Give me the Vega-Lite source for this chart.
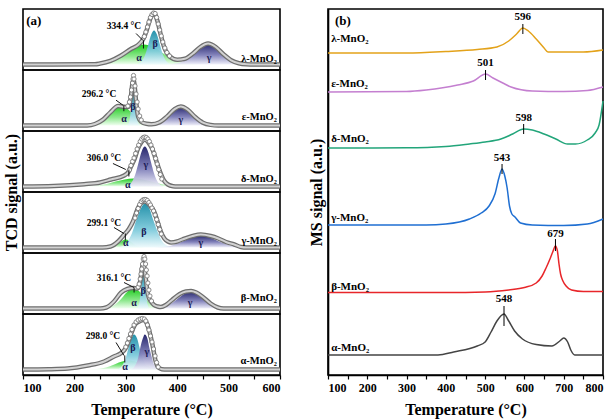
{
"$schema": "https://vega.github.io/schema/vega-lite/v6.json",
"padding": {"left": 2, "top": 3, "right": 12, "bottom": 2},
"config": {
 "view": {"stroke": "#000", "strokeWidth": 1.6},
 "axis": {"labelFont": "Liberation Serif", "labelFontWeight": "bold", "labelFontSize": 12, "labelColor": "#000", "titleFont": "Liberation Serif", "titleFontWeight": "bold", "titleFontSize": 16, "titleColor": "#000", "domainColor": "#000", "domainWidth": 1.6, "tickColor": "#000", "tickWidth": 1.2, "tickSize": 4, "grid": false, "labelPadding": 3, "titlePadding": 8},
 "text": {"font": "Liberation Serif", "fontWeight": "bold", "color": "#000"}
},
"spacing": 17,
"hconcat": [
{
 "spacing": 0,
 "bounds": "flush",
 "data": {"values": [
  {"s":"λ","k":"a","T":230,"v":5.5},{"s":"λ","k":"a","T":248,"v":6.4},{"s":"λ","k":"a","T":265,"v":8.2},{"s":"λ","k":"a","T":283,"v":12},{"s":"λ","k":"a","T":300,"v":17.6},{"s":"λ","k":"a","T":318,"v":23.2},{"s":"λ","k":"a","T":335,"v":25.5},{"s":"λ","k":"a","T":353,"v":23.2},{"s":"λ","k":"a","T":370,"v":17.6},{"s":"λ","k":"a","T":388,"v":12},{"s":"λ","k":"a","T":405,"v":8.2},{"s":"λ","k":"a","T":423,"v":6.4},{"s":"λ","k":"a","T":440,"v":5.5},
  {"s":"λ","k":"b","T":322,"v":5.5},{"s":"λ","k":"b","T":327.5,"v":7},{"s":"λ","k":"b","T":333,"v":10.1},{"s":"λ","k":"b","T":338.5,"v":16.5},{"s":"λ","k":"b","T":344,"v":26.1},{"s":"λ","k":"b","T":349.5,"v":35.5},{"s":"λ","k":"b","T":355,"v":39.5},{"s":"λ","k":"b","T":360.5,"v":35.5},{"s":"λ","k":"b","T":366,"v":26.1},{"s":"λ","k":"b","T":371.5,"v":16.5},{"s":"λ","k":"b","T":377,"v":10.1},{"s":"λ","k":"b","T":382.5,"v":7},{"s":"λ","k":"b","T":388,"v":5.5},
  {"s":"λ","k":"g","T":385,"v":5.5},{"s":"λ","k":"g","T":397.5,"v":6.4},{"s":"λ","k":"g","T":410,"v":8.3},{"s":"λ","k":"g","T":422.5,"v":12.3},{"s":"λ","k":"g","T":435,"v":18.2},{"s":"λ","k":"g","T":447.5,"v":24},{"s":"λ","k":"g","T":460,"v":26.5},{"s":"λ","k":"g","T":472.5,"v":24},{"s":"λ","k":"g","T":485,"v":18.2},{"s":"λ","k":"g","T":497.5,"v":12.3},{"s":"λ","k":"g","T":510,"v":8.3},{"s":"λ","k":"g","T":522.5,"v":6.4},{"s":"λ","k":"g","T":535,"v":5.5},
  {"s":"λ","k":"env","T":100,"v":5.5},{"s":"λ","k":"env","T":240,"v":5.8},{"s":"λ","k":"env","T":250,"v":6.5},{"s":"λ","k":"env","T":270,"v":9.1},{"s":"λ","k":"env","T":290,"v":14.2},{"s":"λ","k":"env","T":310,"v":21},{"s":"λ","k":"env","T":325,"v":25.5},{"s":"λ","k":"env","T":335,"v":32},{"s":"λ","k":"env","T":342,"v":42},{"s":"λ","k":"env","T":348,"v":52},{"s":"λ","k":"env","T":355,"v":56.5},{"s":"λ","k":"env","T":362,"v":48.2},{"s":"λ","k":"env","T":368,"v":35.2},{"s":"λ","k":"env","T":375,"v":22.4},{"s":"λ","k":"env","T":385,"v":13.7},{"s":"λ","k":"env","T":400,"v":10.3},{"s":"λ","k":"env","T":415,"v":11.2},{"s":"λ","k":"env","T":430,"v":16.2},{"s":"λ","k":"env","T":445,"v":23},{"s":"λ","k":"env","T":460,"v":26.5},{"s":"λ","k":"env","T":475,"v":23},{"s":"λ","k":"env","T":490,"v":15.7},{"s":"λ","k":"env","T":505,"v":9.7},{"s":"λ","k":"env","T":520,"v":6.7},{"s":"λ","k":"env","T":535,"v":5.7},{"s":"λ","k":"env","T":550,"v":5.5},{"s":"λ","k":"env","T":600,"v":5.5},
  {"s":"λ","k":"exp","T":336,"v":33.5},{"s":"λ","k":"exp","T":339,"v":38},{"s":"λ","k":"exp","T":342,"v":43},{"s":"λ","k":"exp","T":345,"v":48},{"s":"λ","k":"exp","T":348,"v":52.5},{"s":"λ","k":"exp","T":351,"v":55.5},{"s":"λ","k":"exp","T":354,"v":57},{"s":"λ","k":"exp","T":357,"v":56.5},{"s":"λ","k":"exp","T":360,"v":52.5},{"s":"λ","k":"exp","T":363,"v":46},{"s":"λ","k":"exp","T":366,"v":40},{"s":"λ","k":"exp","T":369,"v":34},{"s":"λ","k":"exp","T":372,"v":28},{"s":"λ","k":"exp","T":376,"v":22},{"s":"λ","k":"exp","T":380,"v":17.5},{"s":"λ","k":"exp","T":385,"v":14},
  {"s":"λ","k":"seg","T":320,"v":36.5,"T2":333.5,"v2":29.5},{"s":"λ","k":"seg","T":334.4,"v":21.5,"T2":334.4,"v2":29.5},
  {"s":"λ","k":"lab","T":326,"v":12.5,"t":"α"},{"s":"λ","k":"lab","T":357,"v":26.5,"t":"β"},{"s":"λ","k":"lab","T":462,"v":12.5,"t":"γ"},
  {"s":"λ","k":"ann","T":296.5,"v":44.5,"t":"334.4 °C"},
  {"s":"λ","k":"name","T":594,"v":11.5,"t":"λ-MnO₂"},
  {"s":"λ","k":"pan","T":121,"v":49.5,"t":"(a)"},

  {"s":"ε","k":"a","T":224,"v":5.5},{"s":"ε","k":"a","T":235,"v":6.4},{"s":"ε","k":"a","T":246,"v":8.2},{"s":"ε","k":"a","T":257,"v":12},{"s":"ε","k":"a","T":268,"v":17.6},{"s":"ε","k":"a","T":279,"v":23.2},{"s":"ε","k":"a","T":290,"v":25.5},{"s":"ε","k":"a","T":301,"v":23.2},{"s":"ε","k":"a","T":312,"v":17.6},{"s":"ε","k":"a","T":323,"v":12},{"s":"ε","k":"a","T":334,"v":8.2},{"s":"ε","k":"a","T":345,"v":6.4},{"s":"ε","k":"a","T":356,"v":5.5},
  {"s":"ε","k":"b","T":303,"v":5.5},{"s":"ε","k":"b","T":305,"v":7},{"s":"ε","k":"b","T":307,"v":10.2},{"s":"ε","k":"b","T":309,"v":16.9},{"s":"ε","k":"b","T":311,"v":26.7},{"s":"ε","k":"b","T":313,"v":36.4},{"s":"ε","k":"b","T":315,"v":40.5},{"s":"ε","k":"b","T":317,"v":36.4},{"s":"ε","k":"b","T":319,"v":26.7},{"s":"ε","k":"b","T":321,"v":16.9},{"s":"ε","k":"b","T":323,"v":10.2},{"s":"ε","k":"b","T":325,"v":7},{"s":"ε","k":"b","T":327,"v":5.5},
  {"s":"ε","k":"g","T":341,"v":5.5},{"s":"ε","k":"g","T":352,"v":6.3},{"s":"ε","k":"g","T":363,"v":8.1},{"s":"ε","k":"g","T":374,"v":11.7},{"s":"ε","k":"g","T":385,"v":17},{"s":"ε","k":"g","T":396,"v":22.3},{"s":"ε","k":"g","T":407,"v":24.5},{"s":"ε","k":"g","T":418,"v":22.3},{"s":"ε","k":"g","T":429,"v":17},{"s":"ε","k":"g","T":440,"v":11.7},{"s":"ε","k":"g","T":451,"v":8.1},{"s":"ε","k":"g","T":462,"v":6.3},{"s":"ε","k":"g","T":473,"v":5.5},
  {"s":"ε","k":"env","T":100,"v":5.5},{"s":"ε","k":"env","T":225,"v":5.6},{"s":"ε","k":"env","T":240,"v":7},{"s":"ε","k":"env","T":255,"v":11.1},{"s":"ε","k":"env","T":270,"v":18.7},{"s":"ε","k":"env","T":285,"v":25},{"s":"ε","k":"env","T":300,"v":24},{"s":"ε","k":"env","T":306,"v":24.5},{"s":"ε","k":"env","T":310,"v":34.7},{"s":"ε","k":"env","T":313,"v":48},{"s":"ε","k":"env","T":315,"v":51},{"s":"ε","k":"env","T":317,"v":45.8},{"s":"ε","k":"env","T":320,"v":29.4},{"s":"ε","k":"env","T":324,"v":14.4},{"s":"ε","k":"env","T":330,"v":9.3},{"s":"ε","k":"env","T":340,"v":7.2},{"s":"ε","k":"env","T":350,"v":6.7},{"s":"ε","k":"env","T":365,"v":8.6},{"s":"ε","k":"env","T":380,"v":14.4},{"s":"ε","k":"env","T":395,"v":21.9},{"s":"ε","k":"env","T":407,"v":24.5},{"s":"ε","k":"env","T":420,"v":21.5},{"s":"ε","k":"env","T":435,"v":14},{"s":"ε","k":"env","T":450,"v":8.3},{"s":"ε","k":"env","T":465,"v":6.1},{"s":"ε","k":"env","T":480,"v":5.5},{"s":"ε","k":"env","T":600,"v":5.5},
  {"s":"ε","k":"exp","T":304,"v":25},{"s":"ε","k":"exp","T":307,"v":29},{"s":"ε","k":"exp","T":309,"v":34},{"s":"ε","k":"exp","T":311,"v":41},{"s":"ε","k":"exp","T":313,"v":48},{"s":"ε","k":"exp","T":314,"v":52},{"s":"ε","k":"exp","T":315,"v":55.5},{"s":"ε","k":"exp","T":316,"v":52},{"s":"ε","k":"exp","T":318,"v":45},{"s":"ε","k":"exp","T":320,"v":37},{"s":"ε","k":"exp","T":322,"v":29},{"s":"ε","k":"exp","T":324,"v":22},{"s":"ε","k":"exp","T":327,"v":15},{"s":"ε","k":"exp","T":330,"v":11},
  {"s":"ε","k":"seg","T":281,"v":30.8,"T2":294.5,"v2":25.8},{"s":"ε","k":"seg","T":296.2,"v":19.8,"T2":296.2,"v2":25.8},
  {"s":"ε","k":"lab","T":296.5,"v":11.8,"t":"α"},{"s":"ε","k":"lab","T":314,"v":23.8,"t":"β"},{"s":"ε","k":"lab","T":407,"v":10.8,"t":"γ"},
  {"s":"ε","k":"ann","T":248,"v":36.8,"t":"296.2 °C"},
  {"s":"ε","k":"name","T":594,"v":13.8,"t":"ε-MnO₂"},

  {"s":"δ","k":"a","T":210,"v":5.5},{"s":"δ","k":"a","T":228,"v":5.9},{"s":"δ","k":"a","T":245,"v":6.6},{"s":"δ","k":"a","T":263,"v":8.1},{"s":"δ","k":"a","T":280,"v":10.4},{"s":"δ","k":"a","T":298,"v":12.6},{"s":"δ","k":"a","T":315,"v":13.5},{"s":"δ","k":"a","T":333,"v":12.6},{"s":"δ","k":"a","T":350,"v":10.4},{"s":"δ","k":"a","T":368,"v":8.1},{"s":"δ","k":"a","T":385,"v":6.6},{"s":"δ","k":"a","T":403,"v":5.9},{"s":"δ","k":"a","T":420,"v":5.5},
  {"s":"δ","k":"g","T":301,"v":5.5},{"s":"δ","k":"g","T":307,"v":7.3},{"s":"δ","k":"g","T":313,"v":10.9},{"s":"δ","k":"g","T":319,"v":18.5},{"s":"δ","k":"g","T":325,"v":29.8},{"s":"δ","k":"g","T":331,"v":40.8},{"s":"δ","k":"g","T":337,"v":45.5},{"s":"δ","k":"g","T":343,"v":40.8},{"s":"δ","k":"g","T":349,"v":29.8},{"s":"δ","k":"g","T":355,"v":18.5},{"s":"δ","k":"g","T":361,"v":10.9},{"s":"δ","k":"g","T":367,"v":7.3},{"s":"δ","k":"g","T":373,"v":5.5},
  {"s":"δ","k":"env","T":100,"v":5.5},{"s":"δ","k":"env","T":160,"v":6},{"s":"δ","k":"env","T":219,"v":7.8},{"s":"δ","k":"env","T":250,"v":9.5},{"s":"δ","k":"env","T":271,"v":12.5},{"s":"δ","k":"env","T":297,"v":16.5},{"s":"δ","k":"env","T":305,"v":20},{"s":"δ","k":"env","T":310,"v":25.5},{"s":"δ","k":"env","T":317,"v":33},{"s":"δ","k":"env","T":323,"v":42.5},{"s":"δ","k":"env","T":330,"v":49.5},{"s":"δ","k":"env","T":337,"v":52.5},{"s":"δ","k":"env","T":344,"v":49.5},{"s":"δ","k":"env","T":352,"v":42.5},{"s":"δ","k":"env","T":360,"v":30},{"s":"δ","k":"env","T":368,"v":18.5},{"s":"δ","k":"env","T":375,"v":11},{"s":"δ","k":"env","T":382,"v":7.5},{"s":"δ","k":"env","T":392,"v":5.8},{"s":"δ","k":"env","T":400,"v":5.5},{"s":"δ","k":"env","T":600,"v":5.5},
  {"s":"δ","k":"exp","T":307,"v":22},{"s":"δ","k":"exp","T":310,"v":26.5},{"s":"δ","k":"exp","T":313,"v":30.5},{"s":"δ","k":"exp","T":316,"v":34},{"s":"δ","k":"exp","T":319,"v":38.5},{"s":"δ","k":"exp","T":322,"v":43},{"s":"δ","k":"exp","T":325,"v":47},{"s":"δ","k":"exp","T":328,"v":50.5},{"s":"δ","k":"exp","T":331,"v":53},{"s":"δ","k":"exp","T":334,"v":54.5},{"s":"δ","k":"exp","T":337,"v":55},{"s":"δ","k":"exp","T":340,"v":54.5},{"s":"δ","k":"exp","T":343,"v":53},{"s":"δ","k":"exp","T":346,"v":50.5},{"s":"δ","k":"exp","T":349,"v":47},{"s":"δ","k":"exp","T":352,"v":43},{"s":"δ","k":"exp","T":355,"v":38.5},{"s":"δ","k":"exp","T":358,"v":33.5},{"s":"δ","k":"exp","T":361,"v":28},{"s":"δ","k":"exp","T":364,"v":22.5},{"s":"δ","k":"exp","T":367,"v":17.5},{"s":"δ","k":"exp","T":370,"v":13},
  {"s":"δ","k":"seg","T":275,"v":28.5,"T2":300,"v2":22.5},{"s":"δ","k":"seg","T":306,"v":15.5,"T2":306,"v2":22.5},
  {"s":"δ","k":"lab","T":304,"v":7.5,"t":"α"},{"s":"δ","k":"lab","T":339,"v":27.5,"t":"γ"},
  {"s":"δ","k":"ann","T":257.6,"v":34.5,"t":"306.0 °C"},
  {"s":"δ","k":"name","T":594,"v":13.5,"t":"δ-MnO₂"},

  {"s":"γ","k":"a","T":264,"v":5.5},{"s":"γ","k":"a","T":270,"v":5.9},{"s":"γ","k":"a","T":276,"v":6.6},{"s":"γ","k":"a","T":282,"v":8.1},{"s":"γ","k":"a","T":288,"v":10.4},{"s":"γ","k":"a","T":294,"v":12.6},{"s":"γ","k":"a","T":300,"v":13.5},{"s":"γ","k":"a","T":306,"v":12.6},{"s":"γ","k":"a","T":312,"v":10.4},{"s":"γ","k":"a","T":318,"v":8.1},{"s":"γ","k":"a","T":324,"v":6.6},{"s":"γ","k":"a","T":330,"v":5.9},{"s":"γ","k":"a","T":336,"v":5.5},
  {"s":"γ","k":"b","T":286,"v":5.5},{"s":"γ","k":"b","T":295,"v":7.4},{"s":"γ","k":"b","T":303,"v":11.5},{"s":"γ","k":"b","T":312,"v":19.8},{"s":"γ","k":"b","T":320,"v":32.2},{"s":"γ","k":"b","T":329,"v":44.3},{"s":"γ","k":"b","T":337,"v":49.5},{"s":"γ","k":"b","T":346,"v":44.3},{"s":"γ","k":"b","T":354,"v":32.2},{"s":"γ","k":"b","T":363,"v":19.8},{"s":"γ","k":"b","T":371,"v":11.5},{"s":"γ","k":"b","T":380,"v":7.4},{"s":"γ","k":"b","T":388,"v":5.5},
  {"s":"γ","k":"g","T":356,"v":5.5},{"s":"γ","k":"g","T":371,"v":6},{"s":"γ","k":"g","T":386,"v":7.1},{"s":"γ","k":"g","T":401,"v":9.4},{"s":"γ","k":"g","T":416,"v":12.8},{"s":"γ","k":"g","T":431,"v":16.1},{"s":"γ","k":"g","T":446,"v":17.5},{"s":"γ","k":"g","T":461,"v":16.1},{"s":"γ","k":"g","T":476,"v":12.8},{"s":"γ","k":"g","T":491,"v":9.4},{"s":"γ","k":"g","T":506,"v":7.1},{"s":"γ","k":"g","T":521,"v":6},{"s":"γ","k":"g","T":536,"v":5.5},
  {"s":"γ","k":"env","T":100,"v":5.5},{"s":"γ","k":"env","T":255,"v":5.5},{"s":"γ","k":"env","T":270,"v":6.5},{"s":"γ","k":"env","T":285,"v":11.5},{"s":"γ","k":"env","T":297,"v":18.5},{"s":"γ","k":"env","T":306,"v":24},{"s":"γ","k":"env","T":314,"v":31.5},{"s":"γ","k":"env","T":323,"v":44},{"s":"γ","k":"env","T":330,"v":50},{"s":"γ","k":"env","T":337,"v":51.5},{"s":"γ","k":"env","T":346,"v":48},{"s":"γ","k":"env","T":355,"v":41.5},{"s":"γ","k":"env","T":362,"v":31},{"s":"γ","k":"env","T":368,"v":21.5},{"s":"γ","k":"env","T":375,"v":14.5},{"s":"γ","k":"env","T":382,"v":11.5},{"s":"γ","k":"env","T":388,"v":10.5},{"s":"γ","k":"env","T":400,"v":11.5},{"s":"γ","k":"env","T":410,"v":13.5},{"s":"γ","k":"env","T":430,"v":17},{"s":"γ","k":"env","T":446,"v":18.5},{"s":"γ","k":"env","T":465,"v":17},{"s":"γ","k":"env","T":480,"v":14.5},{"s":"γ","k":"env","T":495,"v":11},{"s":"γ","k":"env","T":511,"v":8.5},{"s":"γ","k":"env","T":524,"v":6},{"s":"γ","k":"env","T":535,"v":5.5},{"s":"γ","k":"env","T":600,"v":5.5},
  {"s":"γ","k":"exp","T":318,"v":35},{"s":"γ","k":"exp","T":321,"v":40},{"s":"γ","k":"exp","T":324,"v":44.5},{"s":"γ","k":"exp","T":327,"v":48.5},{"s":"γ","k":"exp","T":330,"v":51.5},{"s":"γ","k":"exp","T":333,"v":53},{"s":"γ","k":"exp","T":336,"v":53.5},{"s":"γ","k":"exp","T":339,"v":53.5},{"s":"γ","k":"exp","T":342,"v":52.5},{"s":"γ","k":"exp","T":345,"v":50.5},{"s":"γ","k":"exp","T":348,"v":48},{"s":"γ","k":"exp","T":351,"v":45},{"s":"γ","k":"exp","T":354,"v":42},{"s":"γ","k":"exp","T":357,"v":38},{"s":"γ","k":"exp","T":360,"v":33.5},{"s":"γ","k":"exp","T":363,"v":28.5},{"s":"γ","k":"exp","T":366,"v":23.5},{"s":"γ","k":"exp","T":369,"v":19},
  {"s":"γ","k":"seg","T":277,"v":25.5,"T2":296.5,"v2":19.5},{"s":"γ","k":"seg","T":299.1,"v":12.5,"T2":299.1,"v2":19.5},
  {"s":"γ","k":"lab","T":300,"v":10.5,"t":"α"},{"s":"γ","k":"lab","T":335,"v":21.5,"t":"β"},{"s":"γ","k":"lab","T":446,"v":10.5,"t":"γ"},
  {"s":"γ","k":"ann","T":257.6,"v":30.5,"t":"299.1 °C"},
  {"s":"γ","k":"name","T":594,"v":12.5,"t":"γ-MnO₂"},

  {"s":"β","k":"a","T":255,"v":5.5},{"s":"β","k":"a","T":265,"v":6.4},{"s":"β","k":"a","T":275,"v":8.2},{"s":"β","k":"a","T":285,"v":12},{"s":"β","k":"a","T":295,"v":17.6},{"s":"β","k":"a","T":305,"v":23.2},{"s":"β","k":"a","T":315,"v":25.5},{"s":"β","k":"a","T":325,"v":23.2},{"s":"β","k":"a","T":335,"v":17.6},{"s":"β","k":"a","T":345,"v":12},{"s":"β","k":"a","T":355,"v":8.2},{"s":"β","k":"a","T":365,"v":6.4},{"s":"β","k":"a","T":375,"v":5.5},
  {"s":"β","k":"b","T":322,"v":5.5},{"s":"β","k":"b","T":324,"v":7.1},{"s":"β","k":"b","T":326,"v":10.4},{"s":"β","k":"b","T":328,"v":17.2},{"s":"β","k":"b","T":330,"v":27.3},{"s":"β","k":"b","T":332,"v":37.3},{"s":"β","k":"b","T":334,"v":41.5},{"s":"β","k":"b","T":336,"v":37.3},{"s":"β","k":"b","T":338,"v":27.3},{"s":"β","k":"b","T":340,"v":17.2},{"s":"β","k":"b","T":342,"v":10.4},{"s":"β","k":"b","T":344,"v":7.1},{"s":"β","k":"b","T":346,"v":5.5},
  {"s":"β","k":"g","T":352,"v":5.5},{"s":"β","k":"g","T":365,"v":6.2},{"s":"β","k":"g","T":377,"v":7.8},{"s":"β","k":"g","T":390,"v":11},{"s":"β","k":"g","T":402,"v":15.8},{"s":"β","k":"g","T":415,"v":20.5},{"s":"β","k":"g","T":427,"v":22.5},{"s":"β","k":"g","T":440,"v":20.5},{"s":"β","k":"g","T":452,"v":15.8},{"s":"β","k":"g","T":465,"v":11},{"s":"β","k":"g","T":477,"v":7.8},{"s":"β","k":"g","T":490,"v":6.2},{"s":"β","k":"g","T":502,"v":5.5},
  {"s":"β","k":"env","T":100,"v":5.5},{"s":"β","k":"env","T":250,"v":5.5},{"s":"β","k":"env","T":262,"v":6.5},{"s":"β","k":"env","T":277,"v":12.5},{"s":"β","k":"env","T":291,"v":21.5},{"s":"β","k":"env","T":303,"v":25},{"s":"β","k":"env","T":315,"v":26},{"s":"β","k":"env","T":322,"v":25.5},{"s":"β","k":"env","T":326,"v":28},{"s":"β","k":"env","T":329,"v":36},{"s":"β","k":"env","T":332,"v":47},{"s":"β","k":"env","T":334,"v":51},{"s":"β","k":"env","T":336,"v":47},{"s":"β","k":"env","T":339,"v":35},{"s":"β","k":"env","T":342,"v":22},{"s":"β","k":"env","T":345,"v":16},{"s":"β","k":"env","T":349,"v":12.5},{"s":"β","k":"env","T":355,"v":9},{"s":"β","k":"env","T":362,"v":7.5},{"s":"β","k":"env","T":368,"v":7},{"s":"β","k":"env","T":378,"v":9},{"s":"β","k":"env","T":390,"v":14},{"s":"β","k":"env","T":405,"v":20},{"s":"β","k":"env","T":417,"v":22.5},{"s":"β","k":"env","T":427,"v":23},{"s":"β","k":"env","T":437,"v":21.5},{"s":"β","k":"env","T":450,"v":17},{"s":"β","k":"env","T":465,"v":10.5},{"s":"β","k":"env","T":479,"v":6.5},{"s":"β","k":"env","T":490,"v":5.5},{"s":"β","k":"env","T":600,"v":5.5},
  {"s":"β","k":"exp","T":324,"v":27},{"s":"β","k":"exp","T":326,"v":30},{"s":"β","k":"exp","T":328,"v":35},{"s":"β","k":"exp","T":329.5,"v":40},{"s":"β","k":"exp","T":331,"v":45},{"s":"β","k":"exp","T":332.5,"v":50},{"s":"β","k":"exp","T":334,"v":55},{"s":"β","k":"exp","T":335.5,"v":57.5},{"s":"β","k":"exp","T":337,"v":55},{"s":"β","k":"exp","T":338.5,"v":50},{"s":"β","k":"exp","T":340,"v":44},{"s":"β","k":"exp","T":341.5,"v":38},{"s":"β","k":"exp","T":343,"v":31},{"s":"β","k":"exp","T":345,"v":24},{"s":"β","k":"exp","T":347,"v":18},{"s":"β","k":"exp","T":350,"v":13},
  {"s":"β","k":"seg","T":296.5,"v":31.5,"T2":316,"v2":26.5},{"s":"β","k":"seg","T":316.1,"v":21.5,"T2":316.1,"v2":26.5},
  {"s":"β","k":"lab","T":316,"v":11.5,"t":"α"},{"s":"β","k":"lab","T":333.5,"v":23.5,"t":"β"},{"s":"β","k":"lab","T":425,"v":11.5,"t":"γ"},
  {"s":"β","k":"ann","T":277,"v":36.5,"t":"316.1 °C"},
  {"s":"β","k":"name","T":594,"v":16.5,"t":"β-MnO₂"},

  {"s":"α","k":"a","T":230,"v":5.5},{"s":"α","k":"a","T":243,"v":5.9},{"s":"α","k":"a","T":255,"v":6.7},{"s":"α","k":"a","T":268,"v":8.4},{"s":"α","k":"a","T":280,"v":11},{"s":"α","k":"a","T":293,"v":13.4},{"s":"α","k":"a","T":305,"v":14.5},{"s":"α","k":"a","T":318,"v":13.4},{"s":"α","k":"a","T":330,"v":11},{"s":"α","k":"a","T":343,"v":8.4},{"s":"α","k":"a","T":355,"v":6.7},{"s":"α","k":"a","T":368,"v":5.9},{"s":"α","k":"a","T":380,"v":5.5},
  {"s":"α","k":"b","T":283,"v":5.5},{"s":"α","k":"b","T":289,"v":7},{"s":"α","k":"b","T":294,"v":10.2},{"s":"α","k":"b","T":300,"v":16.9},{"s":"α","k":"b","T":305,"v":26.7},{"s":"α","k":"b","T":311,"v":36.4},{"s":"α","k":"b","T":316,"v":40.5},{"s":"α","k":"b","T":322,"v":36.4},{"s":"α","k":"b","T":327,"v":26.7},{"s":"α","k":"b","T":333,"v":16.9},{"s":"α","k":"b","T":338,"v":10.2},{"s":"α","k":"b","T":344,"v":7},{"s":"α","k":"b","T":349,"v":5.5},
  {"s":"α","k":"g","T":310,"v":5.5},{"s":"α","k":"g","T":315,"v":7},{"s":"α","k":"g","T":319,"v":10.2},{"s":"α","k":"g","T":324,"v":16.9},{"s":"α","k":"g","T":328,"v":26.7},{"s":"α","k":"g","T":333,"v":36.4},{"s":"α","k":"g","T":337,"v":40.5},{"s":"α","k":"g","T":342,"v":36.4},{"s":"α","k":"g","T":346,"v":26.7},{"s":"α","k":"g","T":351,"v":16.9},{"s":"α","k":"g","T":355,"v":10.2},{"s":"α","k":"g","T":360,"v":7},{"s":"α","k":"g","T":364,"v":5.5},
  {"s":"α","k":"env","T":100,"v":5.5},{"s":"α","k":"env","T":150,"v":5.8},{"s":"α","k":"env","T":187,"v":6.5},{"s":"α","k":"env","T":226,"v":9.5},{"s":"α","k":"env","T":258,"v":13.5},{"s":"α","k":"env","T":277,"v":18.5},{"s":"α","k":"env","T":291,"v":22},{"s":"α","k":"env","T":300,"v":27},{"s":"α","k":"env","T":306,"v":34.5},{"s":"α","k":"env","T":312,"v":43.5},{"s":"α","k":"env","T":318,"v":50.5},{"s":"α","k":"env","T":326,"v":53.5},{"s":"α","k":"env","T":334,"v":55},{"s":"α","k":"env","T":340,"v":52.5},{"s":"α","k":"env","T":346,"v":43.5},{"s":"α","k":"env","T":352,"v":30},{"s":"α","k":"env","T":357,"v":16},{"s":"α","k":"env","T":362,"v":8.5},{"s":"α","k":"env","T":370,"v":5.8},{"s":"α","k":"env","T":380,"v":5.5},{"s":"α","k":"env","T":600,"v":5.5},
  {"s":"α","k":"exp","T":300,"v":28},{"s":"α","k":"exp","T":303,"v":32},{"s":"α","k":"exp","T":306,"v":36.5},{"s":"α","k":"exp","T":309,"v":41},{"s":"α","k":"exp","T":312,"v":45.5},{"s":"α","k":"exp","T":316,"v":50},{"s":"α","k":"exp","T":320,"v":53},{"s":"α","k":"exp","T":324,"v":55},{"s":"α","k":"exp","T":328,"v":56},{"s":"α","k":"exp","T":332,"v":56.5},{"s":"α","k":"exp","T":336,"v":56},{"s":"α","k":"exp","T":339,"v":54},{"s":"α","k":"exp","T":342,"v":50},{"s":"α","k":"exp","T":345,"v":45},{"s":"α","k":"exp","T":348,"v":39},{"s":"α","k":"exp","T":351,"v":33},{"s":"α","k":"exp","T":354,"v":26},{"s":"α","k":"exp","T":357,"v":19},{"s":"α","k":"exp","T":360,"v":12.5},{"s":"α","k":"exp","T":363,"v":8},
  {"s":"α","k":"seg","T":281,"v":32.5,"T2":296.5,"v2":19.5},{"s":"α","k":"seg","T":298,"v":12.5,"T2":298,"v2":19.5},
  {"s":"α","k":"lab","T":298.4,"v":8.5,"t":"α"},{"s":"α","k":"lab","T":314,"v":27.5,"t":"β"},{"s":"α","k":"lab","T":341,"v":23.5,"t":"γ"},
  {"s":"α","k":"ann","T":255.6,"v":39.5,"t":"298.0 °C"},
  {"s":"α","k":"name","T":594,"v":14.5,"t":"α-MnO₂"}
 ]},
 "vconcat": [
  {"transform": [{"filter": "datum.s === 'λ'"}], "width": 257, "height": 61,
   "encoding": {"x": {"field": "T", "type": "quantitative", "scale": {"domain": [100, 600], "nice": false}, "axis": null}, "y": {"field": "v", "type": "quantitative", "scale": {"domain": [0, 61], "nice": false}, "axis": null}},
   "layer": [
    {"transform": [{"filter": "datum.k === 'a'"}], "mark": {"type": "area", "interpolate": "monotone", "color": {"gradient": "linear", "x1": 0, "y1": 0, "x2": 0, "y2": 1, "stops": [{"offset": 0, "color": "#1fcc1f"}, {"offset": 0.6, "color": "#8fe88f"}, {"offset": 1, "color": "#f2fff2"}]}}, "encoding": {"y2": {"datum": 5.5}}},
    {"transform": [{"filter": "datum.k === 'b'"}], "mark": {"type": "area", "interpolate": "monotone", "opacity": 0.95, "color": {"gradient": "linear", "x1": 0, "y1": 0, "x2": 0, "y2": 1, "stops": [{"offset": 0, "color": "#1a8ca6"}, {"offset": 0.6, "color": "#7fcbdc"}, {"offset": 1, "color": "#eefafc"}]}}, "encoding": {"y2": {"datum": 5.5}}},
    {"transform": [{"filter": "datum.k === 'g'"}], "mark": {"type": "area", "interpolate": "monotone", "opacity": 0.95, "color": {"gradient": "linear", "x1": 0, "y1": 0, "x2": 0, "y2": 1, "stops": [{"offset": 0, "color": "#1c1c66"}, {"offset": 0.55, "color": "#7d7db8"}, {"offset": 1, "color": "#f0f0fa"}]}}, "encoding": {"y2": {"datum": 5.5}}},
    {"transform": [{"filter": "datum.k === 'env'"}], "mark": {"type": "line", "interpolate": "monotone", "color": "#6e6e6e", "strokeWidth": 4.5}},
    {"transform": [{"filter": "datum.k === 'env'"}], "mark": {"type": "line", "interpolate": "monotone", "color": "#d2d2d2", "strokeWidth": 2}},
    {"transform": [{"filter": "datum.k === 'exp'"}], "mark": {"type": "point", "shape": "circle", "filled": true, "fill": "#ffffff", "stroke": "#707070", "strokeWidth": 0.8, "size": 18, "opacity": 1}},
    {"transform": [{"filter": "datum.k === 'seg'"}], "mark": {"type": "rule", "color": "#111", "strokeWidth": 1}, "encoding": {"x2": {"field": "T2"}, "y2": {"field": "v2"}}},
    {"transform": [{"filter": "datum.k === 'lab'"}], "mark": {"type": "text", "fontSize": 10, "color": "#1b1b55", "baseline": "middle"}, "encoding": {"text": {"field": "t"}}},
    {"transform": [{"filter": "datum.k === 'ann'"}], "mark": {"type": "text", "fontSize": 9.5, "baseline": "middle"}, "encoding": {"text": {"field": "t"}}},
    {"transform": [{"filter": "datum.k === 'name'"}], "mark": {"type": "text", "fontSize": 10.5, "align": "right", "baseline": "middle"}, "encoding": {"text": {"field": "t"}}},
    {"transform": [{"filter": "datum.k === 'pan'"}], "mark": {"type": "text", "fontSize": 13, "baseline": "middle"}, "encoding": {"text": {"field": "t"}}}
   ]},
  {"transform": [{"filter": "datum.s === 'ε'"}], "width": 257, "height": 61,
   "encoding": {"x": {"field": "T", "type": "quantitative", "scale": {"domain": [100, 600], "nice": false}, "axis": null}, "y": {"field": "v", "type": "quantitative", "scale": {"domain": [0, 61], "nice": false}, "axis": null}},
   "layer": [
    {"transform": [{"filter": "datum.k === 'a'"}], "mark": {"type": "area", "interpolate": "monotone", "color": {"gradient": "linear", "x1": 0, "y1": 0, "x2": 0, "y2": 1, "stops": [{"offset": 0, "color": "#1fcc1f"}, {"offset": 0.6, "color": "#8fe88f"}, {"offset": 1, "color": "#f2fff2"}]}}, "encoding": {"y2": {"datum": 5.5}}},
    {"transform": [{"filter": "datum.k === 'b'"}], "mark": {"type": "area", "interpolate": "monotone", "opacity": 0.95, "color": {"gradient": "linear", "x1": 0, "y1": 0, "x2": 0, "y2": 1, "stops": [{"offset": 0, "color": "#1a8ca6"}, {"offset": 0.6, "color": "#7fcbdc"}, {"offset": 1, "color": "#eefafc"}]}}, "encoding": {"y2": {"datum": 5.5}}},
    {"transform": [{"filter": "datum.k === 'g'"}], "mark": {"type": "area", "interpolate": "monotone", "opacity": 0.95, "color": {"gradient": "linear", "x1": 0, "y1": 0, "x2": 0, "y2": 1, "stops": [{"offset": 0, "color": "#1c1c66"}, {"offset": 0.55, "color": "#7d7db8"}, {"offset": 1, "color": "#f0f0fa"}]}}, "encoding": {"y2": {"datum": 5.5}}},
    {"transform": [{"filter": "datum.k === 'env'"}], "mark": {"type": "line", "interpolate": "monotone", "color": "#6e6e6e", "strokeWidth": 4.5}},
    {"transform": [{"filter": "datum.k === 'env'"}], "mark": {"type": "line", "interpolate": "monotone", "color": "#d2d2d2", "strokeWidth": 2}},
    {"transform": [{"filter": "datum.k === 'exp'"}], "mark": {"type": "point", "shape": "circle", "filled": true, "fill": "#ffffff", "stroke": "#707070", "strokeWidth": 0.8, "size": 18, "opacity": 1}},
    {"transform": [{"filter": "datum.k === 'seg'"}], "mark": {"type": "rule", "color": "#111", "strokeWidth": 1}, "encoding": {"x2": {"field": "T2"}, "y2": {"field": "v2"}}},
    {"transform": [{"filter": "datum.k === 'lab'"}], "mark": {"type": "text", "fontSize": 10, "color": "#1b1b55", "baseline": "middle"}, "encoding": {"text": {"field": "t"}}},
    {"transform": [{"filter": "datum.k === 'ann'"}], "mark": {"type": "text", "fontSize": 9.5, "baseline": "middle"}, "encoding": {"text": {"field": "t"}}},
    {"transform": [{"filter": "datum.k === 'name'"}], "mark": {"type": "text", "fontSize": 10.5, "align": "right", "baseline": "middle"}, "encoding": {"text": {"field": "t"}}}
   ]},
  {"transform": [{"filter": "datum.s === 'δ'"}], "width": 257, "height": 61,
   "encoding": {"x": {"field": "T", "type": "quantitative", "scale": {"domain": [100, 600], "nice": false}, "axis": null}, "y": {"field": "v", "type": "quantitative", "scale": {"domain": [0, 61], "nice": false}, "axis": {"title": "TCD signal (a.u.)", "labels": false, "ticks": false, "domain": false, "titleY": 61, "titlePadding": 4}}},
   "layer": [
    {"transform": [{"filter": "datum.k === 'a'"}], "mark": {"type": "area", "interpolate": "monotone", "color": {"gradient": "linear", "x1": 0, "y1": 0, "x2": 0, "y2": 1, "stops": [{"offset": 0, "color": "#1fcc1f"}, {"offset": 0.6, "color": "#8fe88f"}, {"offset": 1, "color": "#f2fff2"}]}}, "encoding": {"y2": {"datum": 5.5}}},
    {"transform": [{"filter": "datum.k === 'g'"}], "mark": {"type": "area", "interpolate": "monotone", "opacity": 0.95, "color": {"gradient": "linear", "x1": 0, "y1": 0, "x2": 0, "y2": 1, "stops": [{"offset": 0, "color": "#1c1c66"}, {"offset": 0.55, "color": "#7d7db8"}, {"offset": 1, "color": "#f0f0fa"}]}}, "encoding": {"y2": {"datum": 5.5}}},
    {"transform": [{"filter": "datum.k === 'env'"}], "mark": {"type": "line", "interpolate": "monotone", "color": "#6e6e6e", "strokeWidth": 4.5}},
    {"transform": [{"filter": "datum.k === 'env'"}], "mark": {"type": "line", "interpolate": "monotone", "color": "#d2d2d2", "strokeWidth": 2}},
    {"transform": [{"filter": "datum.k === 'exp'"}], "mark": {"type": "point", "shape": "circle", "filled": true, "fill": "#ffffff", "stroke": "#707070", "strokeWidth": 0.8, "size": 18, "opacity": 1}},
    {"transform": [{"filter": "datum.k === 'seg'"}], "mark": {"type": "rule", "color": "#111", "strokeWidth": 1}, "encoding": {"x2": {"field": "T2"}, "y2": {"field": "v2"}}},
    {"transform": [{"filter": "datum.k === 'lab'"}], "mark": {"type": "text", "fontSize": 10, "color": "#1b1b55", "baseline": "middle"}, "encoding": {"text": {"field": "t"}}},
    {"transform": [{"filter": "datum.k === 'ann'"}], "mark": {"type": "text", "fontSize": 9.5, "baseline": "middle"}, "encoding": {"text": {"field": "t"}}},
    {"transform": [{"filter": "datum.k === 'name'"}], "mark": {"type": "text", "fontSize": 10.5, "align": "right", "baseline": "middle"}, "encoding": {"text": {"field": "t"}}}
   ]},
  {"transform": [{"filter": "datum.s === 'γ'"}], "width": 257, "height": 61,
   "encoding": {"x": {"field": "T", "type": "quantitative", "scale": {"domain": [100, 600], "nice": false}, "axis": null}, "y": {"field": "v", "type": "quantitative", "scale": {"domain": [0, 61], "nice": false}, "axis": null}},
   "layer": [
    {"transform": [{"filter": "datum.k === 'a'"}], "mark": {"type": "area", "interpolate": "monotone", "color": {"gradient": "linear", "x1": 0, "y1": 0, "x2": 0, "y2": 1, "stops": [{"offset": 0, "color": "#1fcc1f"}, {"offset": 0.6, "color": "#8fe88f"}, {"offset": 1, "color": "#f2fff2"}]}}, "encoding": {"y2": {"datum": 5.5}}},
    {"transform": [{"filter": "datum.k === 'b'"}], "mark": {"type": "area", "interpolate": "monotone", "opacity": 0.95, "color": {"gradient": "linear", "x1": 0, "y1": 0, "x2": 0, "y2": 1, "stops": [{"offset": 0, "color": "#1a8ca6"}, {"offset": 0.6, "color": "#7fcbdc"}, {"offset": 1, "color": "#eefafc"}]}}, "encoding": {"y2": {"datum": 5.5}}},
    {"transform": [{"filter": "datum.k === 'g'"}], "mark": {"type": "area", "interpolate": "monotone", "opacity": 0.95, "color": {"gradient": "linear", "x1": 0, "y1": 0, "x2": 0, "y2": 1, "stops": [{"offset": 0, "color": "#1c1c66"}, {"offset": 0.55, "color": "#7d7db8"}, {"offset": 1, "color": "#f0f0fa"}]}}, "encoding": {"y2": {"datum": 5.5}}},
    {"transform": [{"filter": "datum.k === 'env'"}], "mark": {"type": "line", "interpolate": "monotone", "color": "#6e6e6e", "strokeWidth": 4.5}},
    {"transform": [{"filter": "datum.k === 'env'"}], "mark": {"type": "line", "interpolate": "monotone", "color": "#d2d2d2", "strokeWidth": 2}},
    {"transform": [{"filter": "datum.k === 'exp'"}], "mark": {"type": "point", "shape": "circle", "filled": true, "fill": "#ffffff", "stroke": "#707070", "strokeWidth": 0.8, "size": 18, "opacity": 1}},
    {"transform": [{"filter": "datum.k === 'seg'"}], "mark": {"type": "rule", "color": "#111", "strokeWidth": 1}, "encoding": {"x2": {"field": "T2"}, "y2": {"field": "v2"}}},
    {"transform": [{"filter": "datum.k === 'lab'"}], "mark": {"type": "text", "fontSize": 10, "color": "#1b1b55", "baseline": "middle"}, "encoding": {"text": {"field": "t"}}},
    {"transform": [{"filter": "datum.k === 'ann'"}], "mark": {"type": "text", "fontSize": 9.5, "baseline": "middle"}, "encoding": {"text": {"field": "t"}}},
    {"transform": [{"filter": "datum.k === 'name'"}], "mark": {"type": "text", "fontSize": 10.5, "align": "right", "baseline": "middle"}, "encoding": {"text": {"field": "t"}}}
   ]},
  {"transform": [{"filter": "datum.s === 'β'"}], "width": 257, "height": 61,
   "encoding": {"x": {"field": "T", "type": "quantitative", "scale": {"domain": [100, 600], "nice": false}, "axis": null}, "y": {"field": "v", "type": "quantitative", "scale": {"domain": [0, 61], "nice": false}, "axis": null}},
   "layer": [
    {"transform": [{"filter": "datum.k === 'a'"}], "mark": {"type": "area", "interpolate": "monotone", "color": {"gradient": "linear", "x1": 0, "y1": 0, "x2": 0, "y2": 1, "stops": [{"offset": 0, "color": "#1fcc1f"}, {"offset": 0.6, "color": "#8fe88f"}, {"offset": 1, "color": "#f2fff2"}]}}, "encoding": {"y2": {"datum": 5.5}}},
    {"transform": [{"filter": "datum.k === 'b'"}], "mark": {"type": "area", "interpolate": "monotone", "opacity": 0.95, "color": {"gradient": "linear", "x1": 0, "y1": 0, "x2": 0, "y2": 1, "stops": [{"offset": 0, "color": "#1a8ca6"}, {"offset": 0.6, "color": "#7fcbdc"}, {"offset": 1, "color": "#eefafc"}]}}, "encoding": {"y2": {"datum": 5.5}}},
    {"transform": [{"filter": "datum.k === 'g'"}], "mark": {"type": "area", "interpolate": "monotone", "opacity": 0.95, "color": {"gradient": "linear", "x1": 0, "y1": 0, "x2": 0, "y2": 1, "stops": [{"offset": 0, "color": "#1c1c66"}, {"offset": 0.55, "color": "#7d7db8"}, {"offset": 1, "color": "#f0f0fa"}]}}, "encoding": {"y2": {"datum": 5.5}}},
    {"transform": [{"filter": "datum.k === 'env'"}], "mark": {"type": "line", "interpolate": "monotone", "color": "#6e6e6e", "strokeWidth": 4.5}},
    {"transform": [{"filter": "datum.k === 'env'"}], "mark": {"type": "line", "interpolate": "monotone", "color": "#d2d2d2", "strokeWidth": 2}},
    {"transform": [{"filter": "datum.k === 'exp'"}], "mark": {"type": "point", "shape": "circle", "filled": true, "fill": "#ffffff", "stroke": "#707070", "strokeWidth": 0.8, "size": 18, "opacity": 1}},
    {"transform": [{"filter": "datum.k === 'seg'"}], "mark": {"type": "rule", "color": "#111", "strokeWidth": 1}, "encoding": {"x2": {"field": "T2"}, "y2": {"field": "v2"}}},
    {"transform": [{"filter": "datum.k === 'lab'"}], "mark": {"type": "text", "fontSize": 10, "color": "#1b1b55", "baseline": "middle"}, "encoding": {"text": {"field": "t"}}},
    {"transform": [{"filter": "datum.k === 'ann'"}], "mark": {"type": "text", "fontSize": 9.5, "baseline": "middle"}, "encoding": {"text": {"field": "t"}}},
    {"transform": [{"filter": "datum.k === 'name'"}], "mark": {"type": "text", "fontSize": 10.5, "align": "right", "baseline": "middle"}, "encoding": {"text": {"field": "t"}}}
   ]},
  {"transform": [{"filter": "datum.s === 'α'"}], "width": 257, "height": 61,
   "encoding": {"x": {"field": "T", "type": "quantitative", "scale": {"domain": [100, 600], "nice": false}, "axis": {"values": [100,150,200,250,300,350,400,450,500,550,600], "labelExpr": "datum.value % 100 === 0 ? datum.label : ''", "title": "Temperature (°C)"}}, "y": {"field": "v", "type": "quantitative", "scale": {"domain": [0, 61], "nice": false}, "axis": null}},
   "layer": [
    {"transform": [{"filter": "datum.k === 'a'"}], "mark": {"type": "area", "interpolate": "monotone", "color": {"gradient": "linear", "x1": 0, "y1": 0, "x2": 0, "y2": 1, "stops": [{"offset": 0, "color": "#1fcc1f"}, {"offset": 0.6, "color": "#8fe88f"}, {"offset": 1, "color": "#f2fff2"}]}}, "encoding": {"y2": {"datum": 5.5}}},
    {"transform": [{"filter": "datum.k === 'b'"}], "mark": {"type": "area", "interpolate": "monotone", "opacity": 0.95, "color": {"gradient": "linear", "x1": 0, "y1": 0, "x2": 0, "y2": 1, "stops": [{"offset": 0, "color": "#1a8ca6"}, {"offset": 0.6, "color": "#7fcbdc"}, {"offset": 1, "color": "#eefafc"}]}}, "encoding": {"y2": {"datum": 5.5}}},
    {"transform": [{"filter": "datum.k === 'g'"}], "mark": {"type": "area", "interpolate": "monotone", "opacity": 0.95, "color": {"gradient": "linear", "x1": 0, "y1": 0, "x2": 0, "y2": 1, "stops": [{"offset": 0, "color": "#1c1c66"}, {"offset": 0.55, "color": "#7d7db8"}, {"offset": 1, "color": "#f0f0fa"}]}}, "encoding": {"y2": {"datum": 5.5}}},
    {"transform": [{"filter": "datum.k === 'env'"}], "mark": {"type": "line", "interpolate": "monotone", "color": "#6e6e6e", "strokeWidth": 4.5}},
    {"transform": [{"filter": "datum.k === 'env'"}], "mark": {"type": "line", "interpolate": "monotone", "color": "#d2d2d2", "strokeWidth": 2}},
    {"transform": [{"filter": "datum.k === 'exp'"}], "mark": {"type": "point", "shape": "circle", "filled": true, "fill": "#ffffff", "stroke": "#707070", "strokeWidth": 0.8, "size": 18, "opacity": 1}},
    {"transform": [{"filter": "datum.k === 'seg'"}], "mark": {"type": "rule", "color": "#111", "strokeWidth": 1}, "encoding": {"x2": {"field": "T2"}, "y2": {"field": "v2"}}},
    {"transform": [{"filter": "datum.k === 'lab'"}], "mark": {"type": "text", "fontSize": 10, "color": "#1b1b55", "baseline": "middle"}, "encoding": {"text": {"field": "t"}}},
    {"transform": [{"filter": "datum.k === 'ann'"}], "mark": {"type": "text", "fontSize": 9.5, "baseline": "middle"}, "encoding": {"text": {"field": "t"}}},
    {"transform": [{"filter": "datum.k === 'name'"}], "mark": {"type": "text", "fontSize": 10.5, "align": "right", "baseline": "middle"}, "encoding": {"text": {"field": "t"}}}
   ]}
 ]
},
{
 "width": 275, "height": 366,
 "data": {"values": [
  {"s":"λ","k":"line","T":100,"v":324},{"s":"λ","k":"line","T":300,"v":324},{"s":"λ","k":"line","T":400,"v":325.5},{"s":"λ","k":"line","T":480,"v":327.5},{"s":"λ","k":"line","T":530,"v":330},{"s":"λ","k":"line","T":560,"v":336},{"s":"λ","k":"line","T":580,"v":343},{"s":"λ","k":"line","T":596,"v":349},{"s":"λ","k":"line","T":610,"v":346},{"s":"λ","k":"line","T":630,"v":338},{"s":"λ","k":"line","T":650,"v":329},{"s":"λ","k":"line","T":660,"v":325},{"s":"λ","k":"line","T":700,"v":325},{"s":"λ","k":"line","T":750,"v":325},{"s":"λ","k":"line","T":800,"v":327},
  {"s":"ε","k":"line","T":100,"v":285},{"s":"ε","k":"line","T":300,"v":285.5},{"s":"ε","k":"line","T":350,"v":287},{"s":"ε","k":"line","T":430,"v":292},{"s":"ε","k":"line","T":470,"v":296},{"s":"ε","k":"line","T":501,"v":303},{"s":"ε","k":"line","T":520,"v":299},{"s":"ε","k":"line","T":545,"v":294},{"s":"ε","k":"line","T":566,"v":290},{"s":"ε","k":"line","T":620,"v":286},{"s":"ε","k":"line","T":700,"v":285.5},{"s":"ε","k":"line","T":760,"v":286.5},{"s":"ε","k":"line","T":800,"v":290},
  {"s":"δ","k":"line","T":100,"v":229},{"s":"δ","k":"line","T":300,"v":229.2},{"s":"δ","k":"line","T":400,"v":230.5},{"s":"δ","k":"line","T":460,"v":233},{"s":"δ","k":"line","T":500,"v":235},{"s":"δ","k":"line","T":540,"v":238},{"s":"δ","k":"line","T":570,"v":243},{"s":"δ","k":"line","T":598,"v":248},{"s":"δ","k":"line","T":620,"v":247},{"s":"δ","k":"line","T":650,"v":243},{"s":"δ","k":"line","T":680,"v":238},{"s":"δ","k":"line","T":710,"v":233},{"s":"δ","k":"line","T":730,"v":233},{"s":"δ","k":"line","T":760,"v":237},{"s":"δ","k":"line","T":780,"v":244},{"s":"δ","k":"line","T":790,"v":252},{"s":"δ","k":"line","T":800,"v":276},
  {"s":"γ","k":"line","T":100,"v":152},{"s":"γ","k":"line","T":350,"v":152},{"s":"γ","k":"line","T":400,"v":153},{"s":"γ","k":"line","T":460,"v":158},{"s":"γ","k":"line","T":490,"v":164},{"s":"γ","k":"line","T":510,"v":171},{"s":"γ","k":"line","T":525,"v":183},{"s":"γ","k":"line","T":535,"v":199},{"s":"γ","k":"line","T":543,"v":208},{"s":"γ","k":"line","T":550,"v":201},{"s":"γ","k":"line","T":556,"v":189},{"s":"γ","k":"line","T":562,"v":171},{"s":"γ","k":"line","T":568,"v":163},{"s":"γ","k":"line","T":576,"v":160},{"s":"γ","k":"line","T":590,"v":154},{"s":"γ","k":"line","T":620,"v":152},{"s":"γ","k":"line","T":700,"v":151.5},{"s":"γ","k":"line","T":760,"v":153},{"s":"γ","k":"line","T":800,"v":158},
  {"s":"β","k":"line","T":100,"v":84.5},{"s":"β","k":"line","T":400,"v":84.5},{"s":"β","k":"line","T":500,"v":85},{"s":"β","k":"line","T":560,"v":87},{"s":"β","k":"line","T":600,"v":89.5},{"s":"β","k":"line","T":630,"v":94},{"s":"β","k":"line","T":645,"v":101},{"s":"β","k":"line","T":655,"v":109},{"s":"β","k":"line","T":665,"v":118},{"s":"β","k":"line","T":672,"v":125},{"s":"β","k":"line","T":679,"v":131},{"s":"β","k":"line","T":684,"v":126},{"s":"β","k":"line","T":688,"v":113},{"s":"β","k":"line","T":692,"v":103},{"s":"β","k":"line","T":698,"v":96},{"s":"β","k":"line","T":706,"v":91},{"s":"β","k":"line","T":720,"v":87},{"s":"β","k":"line","T":750,"v":85.5},{"s":"β","k":"line","T":800,"v":85.5},
  {"s":"α","k":"line","T":100,"v":22},{"s":"α","k":"line","T":380,"v":22},{"s":"α","k":"line","T":420,"v":25},{"s":"α","k":"line","T":480,"v":31},{"s":"α","k":"line","T":500,"v":35},{"s":"α","k":"line","T":515,"v":45},{"s":"α","k":"line","T":530,"v":56},{"s":"α","k":"line","T":548,"v":63},{"s":"α","k":"line","T":560,"v":56},{"s":"α","k":"line","T":575,"v":46},{"s":"α","k":"line","T":595,"v":38},{"s":"α","k":"line","T":630,"v":32.5},{"s":"α","k":"line","T":670,"v":31},{"s":"α","k":"line","T":690,"v":36},{"s":"α","k":"line","T":700,"v":39},{"s":"α","k":"line","T":710,"v":35},{"s":"α","k":"line","T":718,"v":27},{"s":"α","k":"line","T":728,"v":22},{"s":"α","k":"line","T":800,"v":22},
  {"s":"λ","k":"pk","T":596,"v":343,"v2":353},{"s":"ε","k":"pk","T":501,"v":297,"v2":307},{"s":"δ","k":"pk","T":598,"v":243,"v2":253},{"s":"γ","k":"pk","T":543,"v":203,"v2":213},{"s":"β","k":"pk","T":679,"v":126,"v2":138},{"s":"α","k":"pk","T":548,"v":51,"v2":71},
  {"s":"λ","k":"pt","T":596,"v":360,"t":"596"},{"s":"ε","k":"pt","T":501,"v":314,"t":"501"},{"s":"δ","k":"pt","T":598,"v":259,"t":"598"},{"s":"γ","k":"pt","T":543,"v":219,"t":"543"},{"s":"β","k":"pt","T":679,"v":143,"t":"679"},{"s":"α","k":"pt","T":548,"v":78,"t":"548"},
  {"s":"λ","k":"nm","T":108,"v":338,"t":"λ-MnO₂"},{"s":"ε","k":"nm","T":108,"v":293,"t":"ε-MnO₂"},{"s":"δ","k":"nm","T":108,"v":238,"t":"δ-MnO₂"},{"s":"γ","k":"nm","T":108,"v":159,"t":"γ-MnO₂"},{"s":"β","k":"nm","T":108,"v":90,"t":"β-MnO₂"},{"s":"α","k":"nm","T":108,"v":29,"t":"α-MnO₂"},
  {"s":"b","k":"pl","T":138,"v":356,"t":"(b)"}
 ]},
 "encoding": {
  "x": {"field": "T", "type": "quantitative", "scale": {"domain": [100, 800], "nice": false}, "axis": {"values": [100,150,200,250,300,350,400,450,500,550,600,650,700,750,800], "labelExpr": "datum.value % 100 === 0 ? datum.label : ''", "title": "Temperature (°C)"}},
  "y": {"field": "v", "type": "quantitative", "scale": {"domain": [2, 368], "nice": false}, "axis": {"title": "MS signal (a.u.)", "labels": false, "ticks": false, "titlePadding": 4}}
 },
 "layer": [
  {"transform": [{"filter": "datum.k === 'line'"}], "mark": {"type": "line", "strokeWidth": 1.5, "interpolate": "monotone"}, "encoding": {"color": {"field": "s", "type": "nominal", "scale": {"domain": ["λ","ε","δ","γ","β","α"], "range": ["#e3a21a","#c47fd0","#22a57a","#1f6fd2","#e8262a","#444444"]}, "legend": null}}},
  {"transform": [{"filter": "datum.k === 'pk'"}], "mark": {"type": "rule", "color": "#000", "strokeWidth": 1}, "encoding": {"y2": {"field": "v2"}}},
  {"transform": [{"filter": "datum.k === 'pt'"}], "mark": {"type": "text", "fontSize": 11, "baseline": "middle"}, "encoding": {"text": {"field": "t"}}},
  {"transform": [{"filter": "datum.k === 'nm'"}], "mark": {"type": "text", "fontSize": 11, "align": "left", "baseline": "middle"}, "encoding": {"text": {"field": "t"}}},
  {"transform": [{"filter": "datum.k === 'pl'"}], "mark": {"type": "text", "fontSize": 13, "baseline": "middle"}, "encoding": {"text": {"field": "t"}}}
 ]
}
]
}
